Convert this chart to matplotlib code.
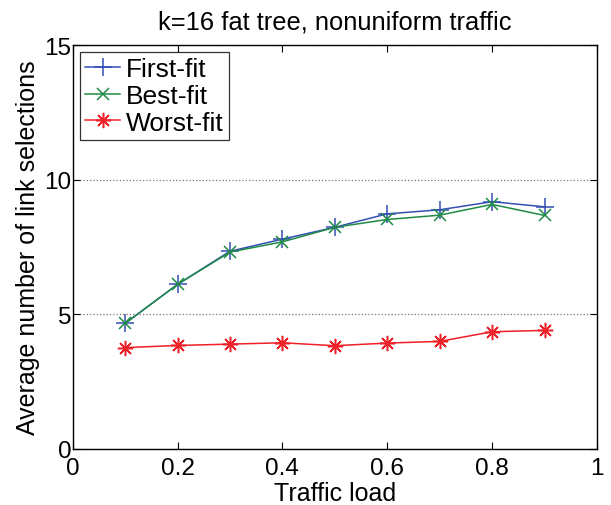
import numpy as np
import matplotlib.pyplot as plt

plt.rcParams['font.family'] = ['Liberation Sans', 'DejaVu Sans']

load = [0.1, 0.2, 0.3, 0.4, 0.5, 0.6, 0.7, 0.8, 0.9]
first_fit = [4.66, 6.11, 7.34, 7.79, 8.23, 8.73, 8.88, 9.18, 8.99]
best_fit = [4.66, 6.11, 7.31, 7.69, 8.23, 8.52, 8.68, 9.08, 8.67]
worst_fit = [3.76, 3.84, 3.89, 3.94, 3.83, 3.93, 3.99, 4.35, 4.40]

fig = plt.figure(figsize=(6.11, 5.06), dpi=100)
ax = fig.add_axes([0.119, 0.111, 0.858, 0.798])

ax.plot(load, first_fit, color='#3450b4', marker='+', markersize=13, lw=1.1, mew=1.1, label='First-fit')
ax.plot(load, best_fit, color='#1f8a45', marker='x', markersize=9, lw=1.1, mew=1.1, label='Best-fit')
ax.plot(load, worst_fit, color='#ee2028', marker=(8, 2, 0), markersize=11, lw=1.1, mew=1.1,
        label='Worst-fit')

ax.set_xlim(0, 1)
ax.set_ylim(0, 15)
ax.set_xticks([0, 0.2, 0.4, 0.6, 0.8, 1])
ax.set_xticklabels(['0', '0.2', '0.4', '0.6', '0.8', '1'])
ax.set_yticks([0, 5, 10, 15])
ax.yaxis.grid(True, linestyle=':', color='#777777', lw=0.9)
ax.tick_params(direction='in', top=True, right=True, labelsize=17.5, length=5)
ax.tick_params(axis='x', pad=6)
ax.tick_params(axis='y', pad=1)
for s in ax.spines.values():
    s.set_linewidth(1.0)

ax.set_xlabel('Traffic load', fontsize=18, labelpad=1)
ax.set_ylabel('Average number of link selections', fontsize=18, labelpad=3)
ax.set_title('k=16 fat tree, nonuniform traffic', fontsize=18.4, pad=12)

leg = ax.legend(loc='upper left', fontsize=19, frameon=True, fancybox=False,
                edgecolor='black', borderpad=0.2, labelspacing=0.1, handlelength=1.33,
                handletextpad=0.2, borderaxespad=0.27)
leg.get_frame().set_linewidth(0.9)

fig.savefig('out.png', dpi=100)
